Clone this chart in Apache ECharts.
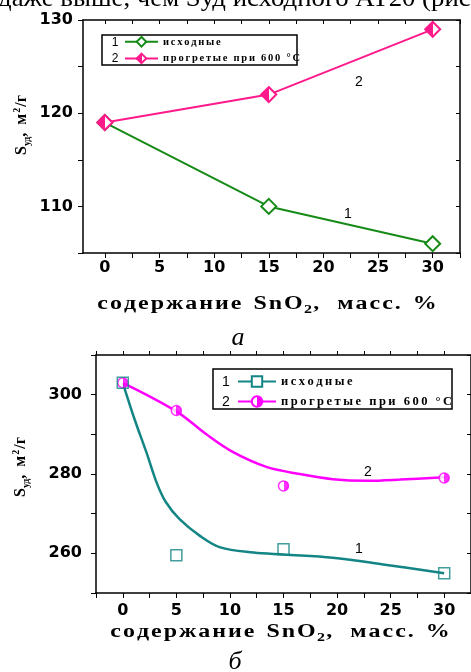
<!DOCTYPE html>
<html><head><meta charset="utf-8">
<script src="https://cdn.jsdelivr.net/npm/echarts@6/dist/echarts.min.js"></script>
<style>html,body{margin:0;padding:0;background:#fff}#c{width:471px;height:672px}</style>
</head><body><div id="c"></div>
<script>
// ---- data (chart a) ----
const xTop = [0, 15, 30];
const topInitial = [119, 110, 106];
const topHeated = [119, 122, 129];
// ---- data (chart б) ----
const xBottom = [0, 5, 15, 30];
const botInitial = [303, 259.5, 261, 255];
const botHeated = [303, 296, 277, 279];
// fitted curves
const fitInitialX = [0, 1.1, 2.2, 3.15, 4.0, 5.3, 7.2, 9.1, 12.2, 15, 19.6, 24.3, 30];
const fitInitialY = [303, 293.8, 285.5, 277.9, 273, 268.6, 264.4, 261.5, 260.2, 259.7, 258.9, 257.2, 255];
const fitHeatedX = [0, 5, 7.8, 10.3, 13.4, 16.5, 19.6, 22.8, 25.9, 30];
const fitHeatedY = [303, 295.8, 290, 285.5, 281.8, 280, 278.7, 278.3, 278.6, 279.2];
// ---- tick labels ----
const xLabels = [0, 5, 10, 15, 20, 25, 30];
const xTicksTop = [0, 2.5, 5, 7.5, 10, 12.5, 15, 17.5, 20, 22.5, 25, 27.5, 30, 32.5];
const xTicksBottom = [-2.5, 0, 2.5, 5, 7.5, 10, 12.5, 15, 17.5, 20, 22.5, 25, 27.5, 30, 32.5];
const yLabelsTop = [110, 120, 130];
const yTicksTop = [105, 110, 115, 120, 125, 130];
const yLabelsBottom = [260, 280, 300];
const yTicksBottom = [250, 260, 270, 280, 290, 300, 310];
const seriesNames = ['исходные', 'прогретые при 600 °C'];

const zip = (xs, ys) => xs.map((x, i) => [x, ys[i]]);
const spaced = (s, sp) => s.split('').join(sp);
const half = (c, leftFilled) => new echarts.graphic.LinearGradient(0, 0, 1, 0, leftFilled ?
  [{offset: 0, color: c}, {offset: 0.5, color: c}, {offset: 0.5, color: '#fff'}, {offset: 1, color: '#fff'}] :
  [{offset: 0, color: '#fff'}, {offset: 0.5, color: '#fff'}, {offset: 0.5, color: c}, {offset: 1, color: c}]);

const GREEN = '#168a16', PINK = '#ff1a8c', TEAL = '#138585', MAG = '#ff00ff';
const tickFont = {fontFamily: 'DejaVu Sans', fontWeight: 'bold', fontSize: 16, color: '#000'};
const axLine = {onZero: false, lineStyle: {color: '#000', width: 1.5}};

function xAxes(gi, min, max, ticks, pos, labelMargin) {
  return [{
    type: 'value', gridIndex: gi, min, max, position: 'bottom',
    axisLine: axLine, splitLine: {show: false},
    axisTick: {show: true, inside: false, length: 5, customValues: ticks, lineStyle: {color: '#000', width: 1}},
    axisLabel: {customValues: xLabels, margin: labelMargin, ...tickFont}
  }, {
    type: 'value', gridIndex: gi, min, max, position: 'top',
    axisLine: axLine, splitLine: {show: false},
    axisTick: {show: true, inside: pos === 'in', length: 4, customValues: ticks, lineStyle: {color: '#000', width: 1}},
    axisLabel: {show: false}
  }];
}
function yAxes(gi, min, max, ticks, labels, labelMargin) {
  return [{
    type: 'value', gridIndex: gi, min, max, position: 'left',
    axisLine: axLine, splitLine: {show: false},
    axisTick: {show: true, inside: false, length: 5, customValues: ticks, lineStyle: {color: '#000', width: 1}},
    axisLabel: {customValues: labels, margin: labelMargin, ...tickFont}
  }, {
    type: 'value', gridIndex: gi, min, max, position: 'right',
    axisLine: axLine, splitLine: {show: false},
    axisTick: {show: true, inside: true, length: 4, customValues: ticks, lineStyle: {color: '#000', width: 1}},
    axisLabel: {show: false}
  }];
}

const HAIR = '\u200A';
const serifBold = {fontFamily: 'Liberation Serif', fontWeight: 'bold', fill: '#000'};
function xTitle(cx, cy) {
  return {
    type: 'text', x: cx, y: cy, scaleX: 1.33, z: 10,
    style: {
      text: '{t|' + spaced('содержание', HAIR) + '  ' + spaced('SnO', HAIR) + '}{s|2}{t|,   ' + spaced('масс.', HAIR) + '  %}',
      align: 'center', verticalAlign: 'middle',
      rich: {
        t: {...serifBold, fontSize: 18, fill: '#000'},
        s: {...serifBold, fontSize: 12, fill: '#000', padding: [12, 1, 0, 1]}
      }
    }
  };
}
function yTitle(cx, cy) {
  return {
    type: 'text', x: cx, y: cy, rotation: Math.PI / 2, z: 10,
    style: {
      text: '{t|S}{s|уд}{t|,  м}{p|2}{t|/г}',
      align: 'center', verticalAlign: 'middle',
      rich: {
        t: {...serifBold, fontSize: 16, fill: '#000'},
        s: {...serifBold, fontSize: 10, fill: '#000', padding: [10, 0, 0, 0]},
        p: {...serifBold, fontSize: 10, fill: '#000', padding: [0, 1, 10, 1]}
      }
    }
  };
}
function plain(txt, x, y, size) {
  return {type: 'text', x, y, z: 10, style: {text: txt, fontFamily: 'Liberation Sans', fontSize: size, fill: '#000', align: 'center', verticalAlign: 'middle'}};
}

const chart = echarts.init(document.getElementById('c'), null, {renderer: 'canvas'});
chart.setOption({
  animation: false,
  backgroundColor: '#fff',
  grid: [
    {left: 83, top: 20, width: 377, height: 233},
    {left: 96, top: 355, width: 375, height: 238}
  ],
  xAxis: [...xAxes(0, -2, 32.5, xTicksTop, 'in', 7), ...xAxes(1, -2.5, 32.5, xTicksBottom, 'out', 10)],
  yAxis: [...yAxes(0, 105, 130, yTicksTop, yLabelsTop, 10), ...yAxes(1, 250, 310, yTicksBottom, yLabelsBottom, 14)],
  legend: [{
    data: ['a_' + seriesNames[0], 'a_' + seriesNames[1]],
    orient: 'vertical', left: 124, top: 36, itemWidth: 33, itemHeight: 12, itemGap: 5, padding: 0,
    formatter: n => spaced(n.slice(2), '\u2006'),
    textStyle: {fontFamily: 'Liberation Serif', fontWeight: 'bold', fontSize: 10.5, color: '#000'},
    selectedMode: false
  }, {
    data: ['b_' + seriesNames[0], 'b_' + seriesNames[1]],
    orient: 'vertical', left: 237, top: 375, itemWidth: 38, itemHeight: 13, itemGap: 7, padding: 0,
    formatter: n => spaced(n.slice(2), '\u2009'),
    textStyle: {fontFamily: 'Liberation Serif', fontWeight: 'bold', fontSize: 12.5, color: '#000'},
    selectedMode: false
  }],
  series: [
    {name: 'a_' + seriesNames[0], type: 'line', xAxisIndex: 0, yAxisIndex: 0, data: zip(xTop, topInitial),
      symbol: 'diamond', symbolSize: 15, lineStyle: {color: GREEN, width: 2},
      itemStyle: {color: '#fff', borderColor: GREEN, borderWidth: 2}, z: 3},
    {name: 'a_' + seriesNames[1], type: 'line', xAxisIndex: 0, yAxisIndex: 0, data: zip(xTop, topHeated),
      symbol: 'diamond', symbolSize: 15, lineStyle: {color: PINK, width: 2},
      itemStyle: {color: half(PINK, true), borderColor: PINK, borderWidth: 2}, z: 4},
    {name: 'b_' + seriesNames[0], type: 'line', xAxisIndex: 2, yAxisIndex: 2, data: zip(fitInitialX, fitInitialY),
      smooth: 0.35, showSymbol: false, symbol: 'rect', symbolSize: 11, lineStyle: {color: TEAL, width: 2.5},
      itemStyle: {color: '#fff', borderColor: TEAL, borderWidth: 1.5}, z: 3},
    {name: 'b_' + seriesNames[1], type: 'line', xAxisIndex: 2, yAxisIndex: 2, data: zip(fitHeatedX, fitHeatedY),
      smooth: 0.35, showSymbol: false, symbol: 'circle', symbolSize: 10, lineStyle: {color: MAG, width: 2.5},
      itemStyle: {color: half(MAG, false), borderColor: MAG, borderWidth: 1.5}, z: 3},
    {name: 'b_pts_1', type: 'scatter', xAxisIndex: 2, yAxisIndex: 2, data: zip(xBottom, botInitial),
      symbol: 'rect', symbolSize: 11, itemStyle: {color: 'rgba(255,255,255,0)', borderColor: TEAL, borderWidth: 1.5}, z: 5},
    {name: 'b_pts_2', type: 'scatter', xAxisIndex: 2, yAxisIndex: 2, data: zip(xBottom, botHeated),
      symbol: 'circle', symbolSize: 10, itemStyle: {color: half(MAG, false), borderColor: MAG, borderWidth: 1.5}, z: 4}
  ],
  graphic: [
    // cropped line of body text above the figure
    {type: 'text', x: -2, y: 12, scaleX: 1.03, z: 10, style: {text: 'даже выше, чем Sуд исходного АТ20 (рис.', fontFamily: 'Liberation Serif', fontSize: 26, fill: '#000', verticalAlign: 'bottom'}},
    xTitle(267, 304),
    yTitle(22, 125),
    xTitle(280, 632),
    yTitle(21, 467),
    {type: 'text', x: 238, y: 338, z: 10, style: {text: 'а', fontFamily: 'Liberation Serif', fontStyle: 'italic', fontSize: 26, fill: '#000', align: 'center', verticalAlign: 'middle'}},
    {type: 'text', x: 235, y: 662, z: 10, style: {text: 'б', fontFamily: 'Liberation Serif', fontStyle: 'italic', fontSize: 26, fill: '#000', align: 'center', verticalAlign: 'middle'}},
    // legend frames and numbers
    {type: 'rect', z: 1, shape: {x: 102, y: 35, width: 195, height: 30}, style: {fill: 'none', stroke: '#000', lineWidth: 1.5}},
    plain('1', 115, 43, 12), plain('2', 115, 59, 12),
    {type: 'rect', z: 1, shape: {x: 213, y: 369, width: 239, height: 40}, style: {fill: 'none', stroke: '#000', lineWidth: 1.5}},
    plain('1', 226, 382, 14), plain('2', 226, 402, 14),
    // curve numbers
    plain('1', 348, 214, 14), plain('2', 359, 82, 14),
    plain('2', 368, 472, 14), plain('1', 359, 549, 14)
  ]
});
</script></body></html>
